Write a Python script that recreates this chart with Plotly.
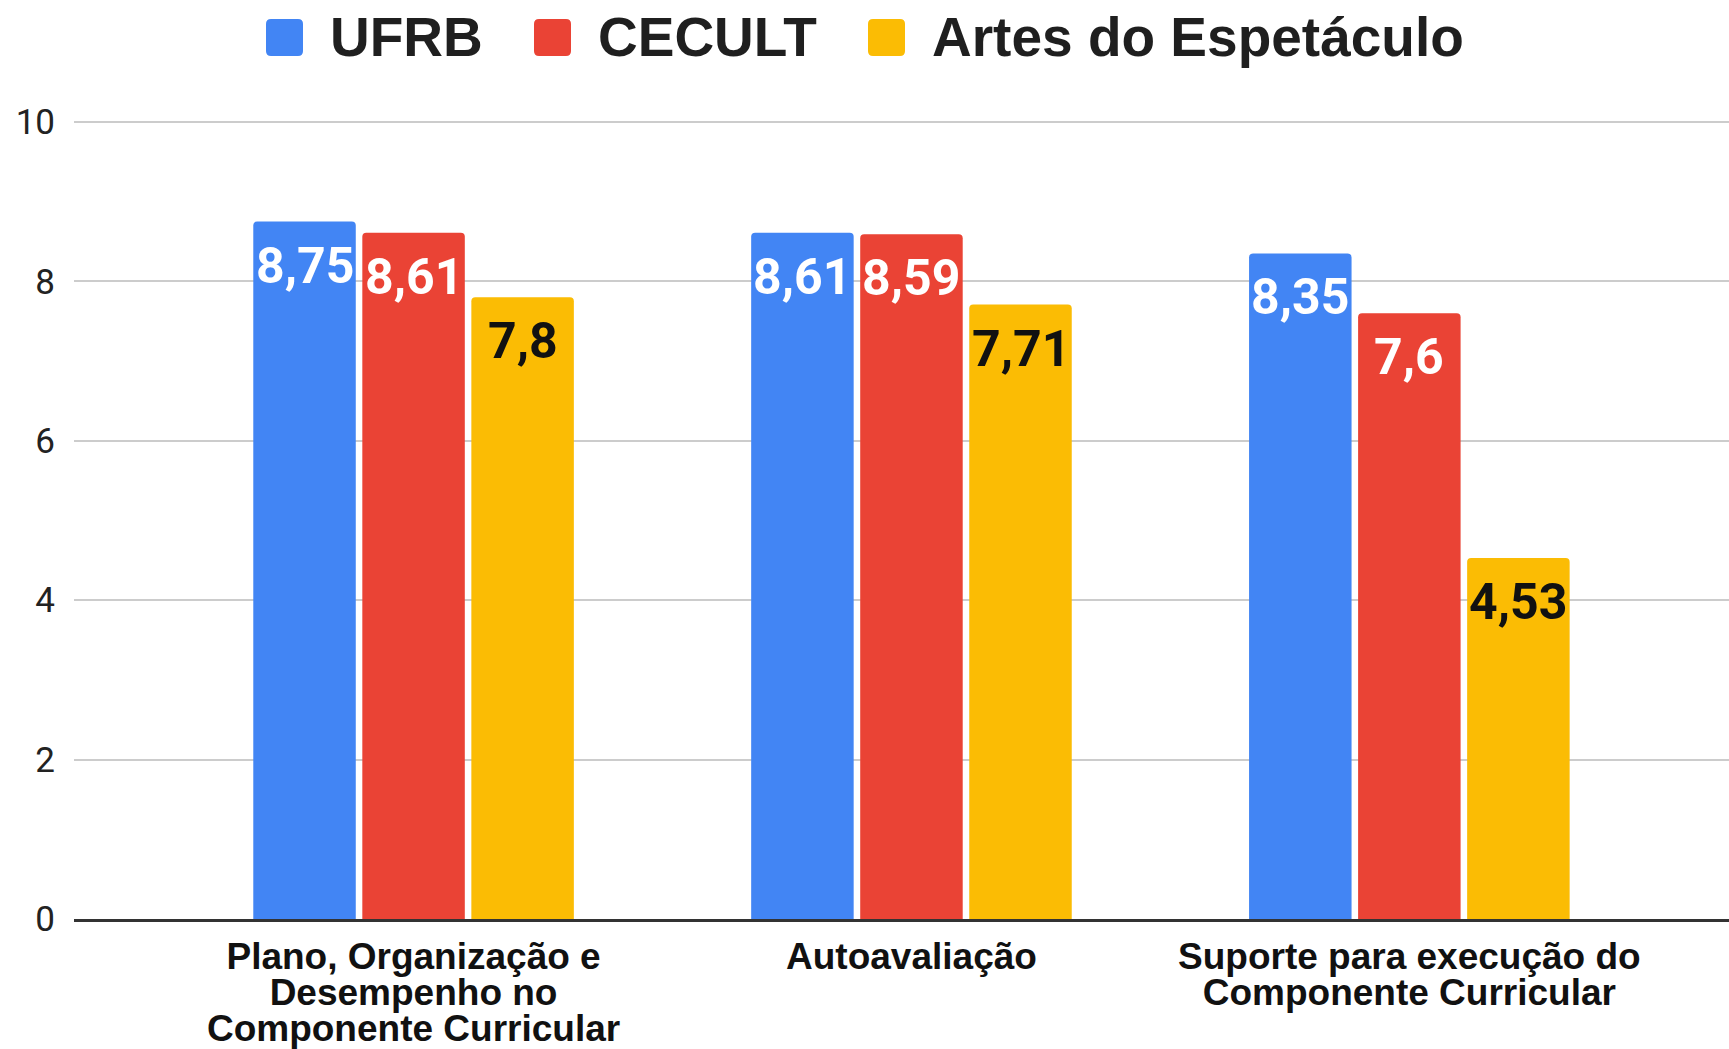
import plotly.graph_objects as go

# ---------------- data ----------------
categories = [
    "Plano, Organização e<br>Desempenho no<br>Componente Curricular",
    "Autoavaliação",
    "Suporte para execução do<br>Componente Curricular",
]
series_names = ["UFRB", "CECULT", "Artes do Espetáculo"]
ufrb = [8.75, 8.61, 8.35]
cecult = [8.61, 8.59, 7.6]
artes = [7.8, 7.71, 4.53]
y_ticks = [0, 2, 4, 6, 8, 10]

# ---------------- style ----------------
colors = ["#4285F4", "#EA4335", "#FBBC04"]
label_colors = ["#FFFFFF", "#FFFFFF", "#111111"]
W, H = 1729, 1049
ML, MR, MT, MB = 74, 0, 118, 130
BARGAP = 0.343
BARGROUPGAP = 0.06
X_RANGE = [-0.682, 2.642]
Y_RANGE = [0, 10.05]
PLOT_W = W - ML - MR
PLOT_H = H - MT - MB


def fmt(v):
    return f"{v:g}".replace(".", ",")


def px_x(p):
    return (p - ML) / PLOT_W


def px_y(p):
    return 1 - (p - MT) / PLOT_H


series = [ufrb, cecult, artes]

fig = go.Figure()
for j, (name, vals) in enumerate(zip(series_names, series)):
    fig.add_trace(go.Bar(
        name=name, x=categories, y=vals,
        marker=dict(color=colors[j], cornerradius=4, line=dict(width=0)),
        showlegend=False, hoverinfo="x+y",
    ))

annotations = []
# bar value labels
for j, vals in enumerate(series):
    for i, v in enumerate(vals):
        annotations.append(dict(
            x=i + (j - 1) * (1 - BARGAP) / 3, y=v, xref="x", yref="y",
            text=fmt(v), showarrow=False, yanchor="middle", xanchor="center",
            yshift=-44,
            font=dict(family="Roboto", size=50, weight="bold", color=label_colors[j]),
        ))

# custom legend
shapes = []
sq_left = [266, 534, 868]
SQ, SQ_TOP, R = 37, 19, 5
for j, name in enumerate(series_names):
    x0, x1 = px_x(sq_left[j]), px_x(sq_left[j] + SQ)
    yt, yb = px_y(SQ_TOP), px_y(SQ_TOP + SQ)
    rx, ry = R / PLOT_W, R / PLOT_H
    path = (f"M {x0+rx},{yt} L {x1-rx},{yt} Q {x1},{yt} {x1},{yt-ry} "
            f"L {x1},{yb+ry} Q {x1},{yb} {x1-rx},{yb} L {x0+rx},{yb} "
            f"Q {x0},{yb} {x0},{yb+ry} L {x0},{yt-ry} Q {x0},{yt} {x0+rx},{yt} Z")
    shapes.append(dict(type="path", xref="paper", yref="paper", path=path,
                       fillcolor=colors[j], line=dict(width=0)))
    annotations.append(dict(
        x=px_x(sq_left[j] + 62), y=px_y(37), xref="paper", yref="paper",
        text=name, showarrow=False, xanchor="left", yanchor="middle",
        font=dict(family="Liberation Sans", size=55, weight="bold", color="#1f1f1f"),
    ))

ticktext = ["<br>".join(f"<span style='font-size:37px'>{ln}</span>" for ln in c.split("<br>"))
            for c in categories]

fig.update_layout(
    width=W, height=H,
    margin=dict(l=ML, r=MR, t=MT, b=MB, pad=0),
    paper_bgcolor="white", plot_bgcolor="white",
    barmode="group", bargap=BARGAP, bargroupgap=BARGROUPGAP,
    showlegend=False,
    annotations=annotations, shapes=shapes,
    xaxis=dict(
        type="category", range=X_RANGE,
        tickmode="array", tickvals=categories, ticktext=ticktext,
        tickfont=dict(family="Liberation Sans", size=28, weight="bold", color="#111111"),
        showgrid=False, showline=True, linecolor="#333333", linewidth=3,
        ticks="", ticklabelstandoff=13, zeroline=False,
    ),
    yaxis=dict(
        range=Y_RANGE, tickmode="array", tickvals=y_ticks,
        tickfont=dict(family="Roboto", size=35, color="#222222"),
        showgrid=True, gridcolor="#cccccc", gridwidth=2,
        zeroline=False, showline=False, ticks="", ticklabelstandoff=18,
    ),
)

fig.write_html(
    "out.html",
    config={"displayModeBar": False},
    post_script="document.body.style.margin='0';document.body.style.overflow='hidden';",
)
